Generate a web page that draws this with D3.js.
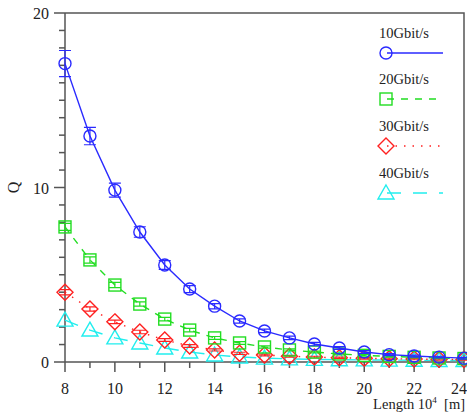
<!doctype html>
<html>
<head>
<meta charset="utf-8">
<title>Q vs length</title>
<script src="https://d3js.org/d3.v7.min.js"></script>
<style>
  body { margin: 0; background: #fff; }
  text { font-family: "Liberation Serif", "Times New Roman", serif; fill: #222; }
</style>
</head>
<body>
<div id="chart"></div>
<script>
const lengths = [8, 9, 10, 11, 12, 13, 14, 15, 16, 17, 18, 19, 20, 21, 22, 23, 24]
const q10 = [17.1, 12.95, 9.85, 7.45, 5.56, 4.18, 3.2, 2.35, 1.78, 1.38, 1.03, 0.8, 0.57, 0.42, 0.34, 0.28, 0.22]
const err10 = [0.75, 0.5, 0.4, 0.3, 0.25, 0.2, 0.15, 0.12, 0.1, 0.1, 0.1, 0.08, 0.08, 0.06, 0.06, 0.05, 0.05]
const q20 = [7.74, 5.85, 4.41, 3.32, 2.46, 1.83, 1.38, 1.09, 0.86, 0.69, 0.57, 0.46, 0.38, 0.32, 0.27, 0.23, 0.2]
const err20 = [0.2, 0.18, 0.15, 0.12, 0.1, 0.1, 0.08, 0.08, 0.06, 0.06, 0.05, 0.05, 0.05, 0.04, 0.04, 0.04, 0.04]
const q30 = [4.0, 3.04, 2.3, 1.72, 1.26, 0.92, 0.69, 0.5, 0.4, 0.33, 0.28, 0.24, 0.21, 0.19, 0.17, 0.15, 0.14]
const err30 = [0.15, 0.12, 0.1, 0.1, 0.08, 0.08, 0.06, 0.06, 0.05, 0.05, 0.05, 0.04, 0.04, 0.04, 0.04, 0.04, 0.04]
const q40 = [2.4, 1.83, 1.38, 1.09, 0.8, 0.57, 0.4, 0.29, 0.22, 0.18, 0.15, 0.13, 0.12, 0.11, 0.1, 0.09, 0.09]
const xTicks = [8, 10, 12, 14, 16, 18, 20, 22, 24]
const yTicks = [0, 10, 20]

const series = [
  { name: '10Gbit/s', vals: q10, err: err10, color: '#2a2aff', dash: null, shape: 'circle' },
  { name: '20Gbit/s', vals: q20, err: err20, color: '#22dd22', dash: '7,7', shape: 'square' },
  { name: '30Gbit/s', vals: q30, err: err30, color: '#ff2020', dash: '1.5,7', shape: 'diamond' },
  { name: '40Gbit/s', vals: q40, err: null, color: '#22eeee', dash: '14,12', shape: 'triangle' }
]

const W = 467, H = 416
const svg = d3.select('#chart').append('svg').attr('width', W).attr('height', H)

const x = d3.scaleLinear().domain([8, 24]).range([65, 464])
const y = d3.scaleLinear().domain([0, 20]).range([362, 13])

// frame (top and right)
svg.append('path')
   .attr('d', `M${x(8)},${y(20)}H${x(24)}V${y(0)}`)
   .attr('fill', 'none').attr('stroke', '#555').attr('stroke-width', 1.5)

// axes
const xAxis = svg.append('g').attr('transform', `translate(0,${y(0)})`)
xAxis.append('line').attr('x1', x(8)).attr('x2', x(24)).attr('stroke', '#555').attr('stroke-width', 1.5)
xAxis.selectAll('.tk').data(d3.range(8, 25)).join('line')
     .attr('x1', d => x(d)).attr('x2', d => x(d))
     .attr('y1', 0).attr('y2', d => d % 2 === 0 ? 10 : 6)
     .attr('stroke', '#555').attr('stroke-width', 1.5)
xAxis.selectAll('text').data(xTicks).join('text')
     .attr('x', d => d === 24 ? W : x(d)).attr('y', 32)
     .attr('text-anchor', d => d === 24 ? 'end' : 'middle').attr('font-size', 16)
     .text(d => d)

const yAxis = svg.append('g').attr('transform', `translate(${x(8)},0)`)
yAxis.append('line').attr('y1', y(0)).attr('y2', y(20)).attr('stroke', '#555').attr('stroke-width', 1.5)
yAxis.selectAll('.tk').data(d3.range(0, 21)).join('line')
     .attr('y1', d => y(d)).attr('y2', d => y(d))
     .attr('x1', 0).attr('x2', d => d % 10 === 0 ? -11 : -6)
     .attr('stroke', '#555').attr('stroke-width', 1.5)
yAxis.selectAll('text').data(yTicks).join('text')
     .attr('x', -16).attr('y', d => y(d) + 6)
     .attr('text-anchor', 'end').attr('font-size', 16)
     .text(d => d)

svg.append('text')
   .attr('transform', `translate(19,${y(10)}) rotate(-90)`)
   .attr('text-anchor', 'middle').attr('font-size', 16)
   .text('Q')

const xl = svg.append('text').attr('x', 465).attr('y', 409).attr('text-anchor', 'end').attr('font-size', 14.5)
xl.append('tspan').text('Length 10')
xl.append('tspan').attr('dy', -6).attr('font-size', 9).text('4')
xl.append('tspan').attr('dy', 6).text('\u00a0\u00a0[m]')

const drawShape = (g, shape, cx, cy, color) => {
  if (shape === 'circle') {
    g.append('circle').attr('cx', cx).attr('cy', cy).attr('r', 6)
     .attr('fill', 'none').attr('stroke', color).attr('stroke-width', 1.4)
  } else if (shape === 'square') {
    g.append('rect').attr('x', cx - 6).attr('y', cy - 6).attr('width', 12).attr('height', 12)
     .attr('fill', 'none').attr('stroke', color).attr('stroke-width', 1.4)
  } else if (shape === 'diamond') {
    g.append('path').attr('d', `M${cx},${cy - 8}L${cx + 8},${cy}L${cx},${cy + 8}L${cx - 8},${cy}Z`)
     .attr('fill', 'none').attr('stroke', color).attr('stroke-width', 1.4)
  } else {
    g.append('path').attr('d', `M${cx},${cy - 8}L${cx + 8},${cy + 6}L${cx - 8},${cy + 6}Z`)
     .attr('fill', 'none').attr('stroke', color).attr('stroke-width', 1.4)
  }
}

const line = d3.line().x((d, i) => x(lengths[i])).y(d => y(d))

series.slice().reverse().forEach(s => {
  const g = svg.append('g')
  g.append('path').attr('d', line(s.vals))
   .attr('fill', 'none').attr('stroke', s.color).attr('stroke-width', 1.4)
   .attr('stroke-dasharray', s.dash)
  s.vals.forEach((v, i) => {
    const cx = x(lengths[i]), cy = y(v)
    if (s.err) {
      const e = s.err[i]
      g.append('path')
       .attr('d', `M${cx},${y(v + e)}V${y(v - e)}M${cx - 6},${y(v + e)}H${cx + 6}M${cx - 6},${y(v - e)}H${cx + 6}`)
       .attr('stroke', s.color).attr('stroke-width', 1.2).attr('fill', 'none')
    }
    drawShape(g, s.shape, cx, cy, s.color)
  })
})

// legend
const legY = [38, 84, 131, 178]
const leg = svg.append('g')
series.forEach((s, i) => {
  leg.append('text').attr('x', 379).attr('y', legY[i]).attr('font-size', 14.5).text(s.name)
  const ly = legY[i] + 15
  leg.append('line').attr('x1', 387).attr('x2', 443).attr('y1', ly).attr('y2', ly)
     .attr('stroke', s.color).attr('stroke-width', 1.4).attr('stroke-dasharray', s.dash)
  drawShape(leg, s.shape, 386, ly, s.color)
})
</script>
</body>
</html>
